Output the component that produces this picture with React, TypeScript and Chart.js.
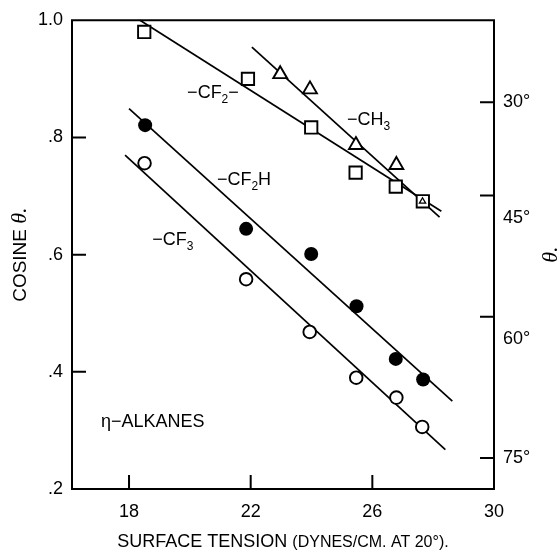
import React, { useEffect, useRef } from 'react';
import { Chart, registerables } from 'chart.js';

Chart.register(...registerables);

const SANS = '"Liberation Sans", Arial, Helvetica, sans-serif';
const SERIF = '"Liberation Serif", "Times New Roman", serif';

// Axis ticks
const xTicks = [18, 22, 26, 30];
const yTicks = [0.2, 0.4, 0.6, 0.8, 1.0];
const angleTicks = [30, 45, 60, 75];

// -CF2- (open squares)
const cf2X = [18.5, 21.91, 23.99, 25.45, 26.77, 27.66];
const cf2Y = [0.98, 0.9, 0.817, 0.74, 0.716, 0.691];
// -CH3 (open triangles)
const ch3X = [22.97, 23.95, 25.46, 26.79, 27.65];
const ch3Y = [0.908, 0.882, 0.787, 0.753, 0.691];
// -CF2H (filled circles)
const cf2hX = [18.53, 21.85, 23.99, 25.48, 26.77, 27.67];
const cf2hY = [0.821, 0.644, 0.601, 0.512, 0.422, 0.387];
// -CF3 (open circles)
const cf3X = [18.51, 21.85, 23.94, 25.47, 26.79, 27.64];
const cf3Y = [0.756, 0.558, 0.468, 0.39, 0.356, 0.306];

// Fitted lines (end points)
const cf2LineX = [18.36, 28.27];
const cf2LineY = [1.0, 0.674];
const ch3LineX = [22.04, 28.21];
const ch3LineY = [0.954, 0.664];
const cf2hLineX = [18.0, 28.63];
const cf2hLineY = [0.849, 0.35];
const cf3LineX = [17.87, 28.4];
const cf3LineY = [0.77, 0.267];

// Labels: text parts [text, isSubscript], anchored in data coordinates
const groupLabels = [
  { parts: [['−CF', false], ['2', true], ['−', false]], x: 19.91, y: 0.867 },
  { parts: [['−CH', false], ['3', true]], x: 25.17, y: 0.821 },
  { parts: [['−CF', false], ['2', true], ['H', false]], x: 20.89, y: 0.719 },
  { parts: [['−CF', false], ['3', true]], x: 18.76, y: 0.616 },
  { parts: [['η−ALKANES', false]], x: 17.08, y: 0.306 },
];

const xTitleMain = 'SURFACE TENSION ';
const xTitleSmall = '(DYNES/CM. AT 20°).';
const yTitleMain = 'COSINE ';
const yTitleTheta = 'θ.';
const y2Title = 'θ.';

const pts = (xs: number[], ys: number[]) => xs.map((x, i) => ({ x, y: ys[i] }));

const deg = (d: number) => Math.cos((d * Math.PI) / 180);

const overlay = {
  id: 'overlay',
  afterDatasetsDraw(chart: any) {
    const { ctx, chartArea: a, scales } = chart;
    const sx = scales.x, sy = scales.y, sy2 = scales.y2;
    ctx.save();
    ctx.strokeStyle = '#000';
    ctx.fillStyle = '#000';
    ctx.lineWidth = 2;
    ctx.strokeRect(a.left, a.top, a.right - a.left, a.bottom - a.top);
    const TL = 14;
    ctx.beginPath();
    xTicks.forEach((v) => {
      if (v > sx.min + 1e-9 && v < sx.max - 1e-9) {
        const px = sx.getPixelForValue(v);
        ctx.moveTo(px, a.bottom);
        ctx.lineTo(px, a.bottom - TL);
      }
    });
    yTicks.forEach((v) => {
      if (v > sy.min + 1e-9 && v < sy.max - 1e-9) {
        const py = sy.getPixelForValue(v);
        ctx.moveTo(a.left, py);
        ctx.lineTo(a.left + TL, py);
      }
    });
    angleTicks.forEach((d) => {
      const py = sy2.getPixelForValue(deg(d));
      ctx.moveTo(a.right, py);
      ctx.lineTo(a.right - TL, py);
    });
    ctx.stroke();

    // group labels
    ctx.textBaseline = 'alphabetic';
    ctx.textAlign = 'left';
    groupLabels.forEach((lab) => {
      let px = sx.getPixelForValue(lab.x);
      const py = sy.getPixelForValue(lab.y);
      lab.parts.forEach(([t, sub]: any) => {
        ctx.font = sub ? `12px ${SANS}` : `18px ${SANS}`;
        ctx.fillText(t, px, sub ? py + 5 : py);
        px += ctx.measureText(t).width;
      });
    });

    // x title
    const cx = (a.left + a.right) / 2;
    ctx.font = `18px ${SANS}`;
    const w1 = ctx.measureText(xTitleMain).width;
    ctx.font = `16px ${SANS}`;
    const w2 = ctx.measureText(xTitleSmall).width;
    let tx = cx - (w1 + w2) / 2;
    const ty = 547;
    ctx.font = `18px ${SANS}`;
    ctx.fillText(xTitleMain, tx, ty);
    tx += w1;
    ctx.font = `16px ${SANS}`;
    ctx.fillText(xTitleSmall, tx, ty);

    // y title (rotated)
    const cy = (a.top + a.bottom) / 2;
    ctx.save();
    ctx.translate(26, cy);
    ctx.rotate(-Math.PI / 2);
    ctx.font = `19px ${SANS}`;
    const m1 = ctx.measureText(yTitleMain).width;
    ctx.font = `italic 22px ${SERIF}`;
    const m2 = ctx.measureText(yTitleTheta).width;
    let rx = -(m1 + m2) / 2;
    ctx.font = `19px ${SANS}`;
    ctx.fillText(yTitleMain, rx, 0);
    rx += m1;
    ctx.font = `italic 22px ${SERIF}`;
    ctx.fillText(yTitleTheta, rx, 0);
    ctx.restore();

    // right title
    ctx.save();
    ctx.translate(557, cy);
    ctx.rotate(-Math.PI / 2);
    ctx.font = `italic 22px ${SERIF}`;
    ctx.textAlign = 'center';
    ctx.fillText(y2Title, 0, 0);
    ctx.restore();

    ctx.restore();
  },
};

export default function App() {
  const ref = useRef<HTMLCanvasElement | null>(null);
  useEffect(() => {
    document.body.style.margin = '0';
    if (!ref.current) return;
    const lineDs = (xs: number[], ys: number[]) => ({
      data: pts(xs, ys),
      showLine: true,
      borderColor: '#000',
      borderWidth: 1.7,
      pointRadius: 0,
      fill: false,
      order: 5,
      clip: false as any,
    });
    const chart = new Chart(ref.current, {
      type: 'scatter',
      data: {
        datasets: [
          lineDs(cf2LineX, cf2LineY),
          lineDs(ch3LineX, ch3LineY),
          lineDs(cf2hLineX, cf2hLineY),
          lineDs(cf3LineX, cf3LineY),
          {
            data: pts(cf2X, cf2Y),
            pointStyle: 'rect',
            pointRadius: 8.7,
            pointBorderWidth: 1.9,
            pointBorderColor: '#000',
            pointBackgroundColor: '#fff',
            order: 2,
            clip: false as any,
          },
          {
            data: pts(ch3X, ch3Y),
            pointStyle: 'triangle',
            pointRadius: [8, 8, 8, 8, 3.6],
            pointBorderWidth: [1.9, 1.9, 1.9, 1.9, 1.3],
            pointBorderColor: '#000',
            pointBackgroundColor: '#fff',
            order: 1,
            clip: false as any,
          },
          {
            data: pts(cf2hX, cf2hY),
            pointStyle: 'circle',
            pointRadius: 7,
            pointBorderWidth: 0,
            pointBackgroundColor: '#000',
            order: 2,
            clip: false as any,
          },
          {
            data: pts(cf3X, cf3Y),
            pointStyle: 'circle',
            pointRadius: 6.3,
            pointBorderWidth: 1.9,
            pointBorderColor: '#000',
            pointBackgroundColor: '#fff',
            order: 2,
            clip: false as any,
          },
        ] as any,
      },
      options: {
        responsive: false,
        animation: false,
        devicePixelRatio: 1,
        events: [],
        layout: { padding: { top: 20, left: 0, right: 0, bottom: 0 } },
        plugins: { legend: { display: false }, tooltip: { enabled: false } },
        scales: {
          x: {
            type: 'linear',
            min: 16.125,
            max: 30,
            afterBuildTicks: (s: any) => {
              s.ticks = xTicks.map((v) => ({ value: v }));
            },
            afterFit: (s: any) => {
              s.height = 63;
            },
            grid: { display: false, drawTicks: false },
            border: { display: false },
            ticks: {
              autoSkip: false,
              maxRotation: 0,
              padding: 12,
              color: '#000',
              font: { size: 18, family: SANS },
              callback: (v: any) => String(v),
            },
          },
          y: {
            type: 'linear',
            min: 0.2,
            max: 1.0,
            afterBuildTicks: (s: any) => {
              s.ticks = yTicks.map((v) => ({ value: v }));
            },
            afterFit: (s: any) => {
              s.width = 72;
            },
            grid: { display: false, drawTicks: false },
            border: { display: false },
            ticks: {
              autoSkip: false,
              padding: 9,
              color: '#000',
              font: { size: 18, family: SANS },
              callback: (v: any) => (Math.abs(v - 1) < 1e-9 ? '1.0' : '.' + Math.round(v * 10)),
            },
          },
          y2: {
            type: 'linear',
            position: 'right',
            min: 0.206,
            max: 1.006,
            afterBuildTicks: (s: any) => {
              s.ticks = angleTicks.map((d) => ({ value: deg(d) }));
            },
            afterFit: (s: any) => {
              s.width = 66;
            },
            grid: { display: false, drawTicks: false },
            border: { display: false },
            ticks: {
              autoSkip: false,
              padding: 9,
              color: '#000',
              font: { size: 18, family: SANS, lineHeight: 1.25 },
              callback: (v: any) => {
                const d = Math.round((Math.acos(v) * 180) / Math.PI);
                return d === 45 || d === 60 ? ['', '', d + '°'] : d + '°';
              },
            },
          },
        },
      } as any,
      plugins: [overlay],
    });
    return () => chart.destroy();
  }, []);
  return <canvas ref={ref} width={560} height={552} style={{ display: 'block', width: 560, height: 552 }} />;
}
